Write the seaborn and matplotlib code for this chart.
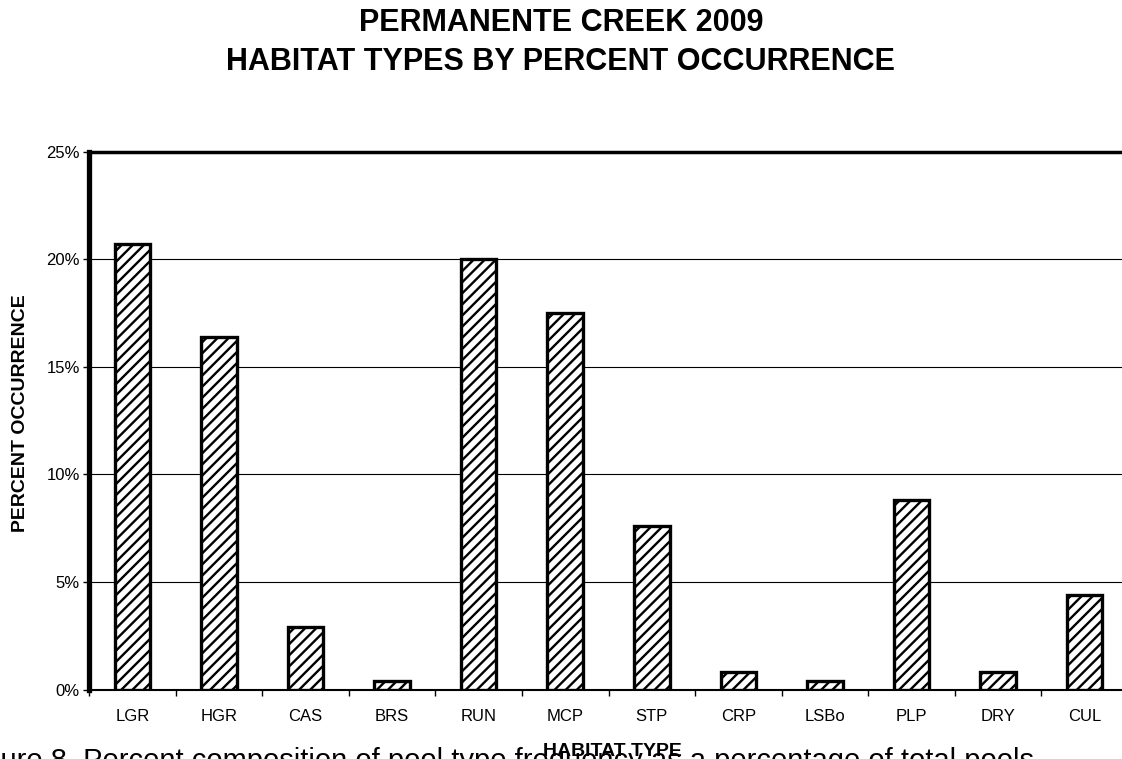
import numpy as np
import pandas as pd
import matplotlib
matplotlib.use("Agg")
import matplotlib.pyplot as plt
import seaborn as sns
from matplotlib.ticker import FuncFormatter

# Habitat categories and their share of all surveyed units (percent)
habitats = ["LGR", "HGR", "CAS", "BRS", "RUN", "MCP", "STP", "CRP", "LSBo", "PLP", "DRY", "CUL"]
percent = [20.7, 16.4, 2.9, 0.4, 20.0, 17.5, 7.6, 0.8, 0.4, 8.8, 0.8, 4.4]
y_ticks = [0, 5, 10, 15, 20, 25]

title_lines = ["PERMANENTE CREEK 2009", "HABITAT TYPES BY PERCENT OCCURRENCE"]
x_title = "HABITAT TYPE"
y_title = "PERCENT OCCURRENCE"
caption = "Figure 8. Percent composition of pool type frequency as a percentage of total pools"

sns.set_style("white")
plt.rcParams["font.family"] = ["Liberation Sans", "DejaVu Sans"]
plt.rcParams["hatch.linewidth"] = 1.7
plt.rcParams["hatch.color"] = "black"
for key in ["text.color", "axes.labelcolor", "xtick.color", "ytick.color"]:
    plt.rcParams[key] = "black"

W, H = 1122, 759
fig = plt.figure(figsize=(W / 100, H / 100), dpi=100)
ax = fig.add_axes([89 / W, (H - 689.5) / H, 1039 / W, 538 / H])

df = pd.DataFrame({"habitat": habitats, "percent": percent})
sns.barplot(data=df, x="habitat", y="percent", color="white", saturation=1,
            edgecolor="black", linewidth=2.4, width=0.41, ax=ax, zorder=3)
for bar in ax.patches:
    bar.set_hatch("///")

# Axes limits, grid and ticks
ax.set_xlim(-0.5, len(habitats) - 0.5)
ax.set_ylim(0, 25)
ax.set_yticks(y_ticks)
ax.yaxis.set_major_formatter(FuncFormatter(lambda v, _: f"{v:.0f}%"))
ax.set_axisbelow(True)
ax.yaxis.grid(True, color="black", linewidth=0.8)
ax.xaxis.grid(False)

ax.set_xticks(np.arange(-0.5, len(habitats), 1), minor=True)
ax.tick_params(axis="x", which="major", length=0, pad=14, labelsize=12, bottom=True)
ax.tick_params(axis="x", which="minor", length=4.5, width=1, direction="out", bottom=True)
ax.tick_params(axis="y", length=4, width=1, direction="out", pad=2.5, labelsize=12, left=True)
ax.set_xlabel("")
ax.set_ylabel("")

for side, lw in [("left", 3.8), ("top", 2.5), ("bottom", 1.5)]:
    ax.spines[side].set_visible(True)
    ax.spines[side].set_color("black")
    ax.spines[side].set_linewidth(lw)
ax.spines["right"].set_visible(False)

# Titles and caption
fig.text(0.5, 1 - 31 / H, title_lines[0], ha="center", va="baseline",
         fontsize=22, fontweight="bold")
fig.text(0.5, 1 - 70 / H, title_lines[1], ha="center", va="baseline",
         fontsize=22, fontweight="bold")
fig.text(21 / W, 1 - 413 / H, y_title, rotation=90, ha="center", va="center",
         fontsize=14, fontweight="bold")
fig.text(612 / W, 1 - 756 / H, x_title, ha="center", va="baseline",
         fontsize=14, fontweight="bold", zorder=5)
fig.text(-40 / W, 1 - 769 / H, caption, ha="left", va="baseline", fontsize=21)

fig.savefig("out.png", dpi=100)
